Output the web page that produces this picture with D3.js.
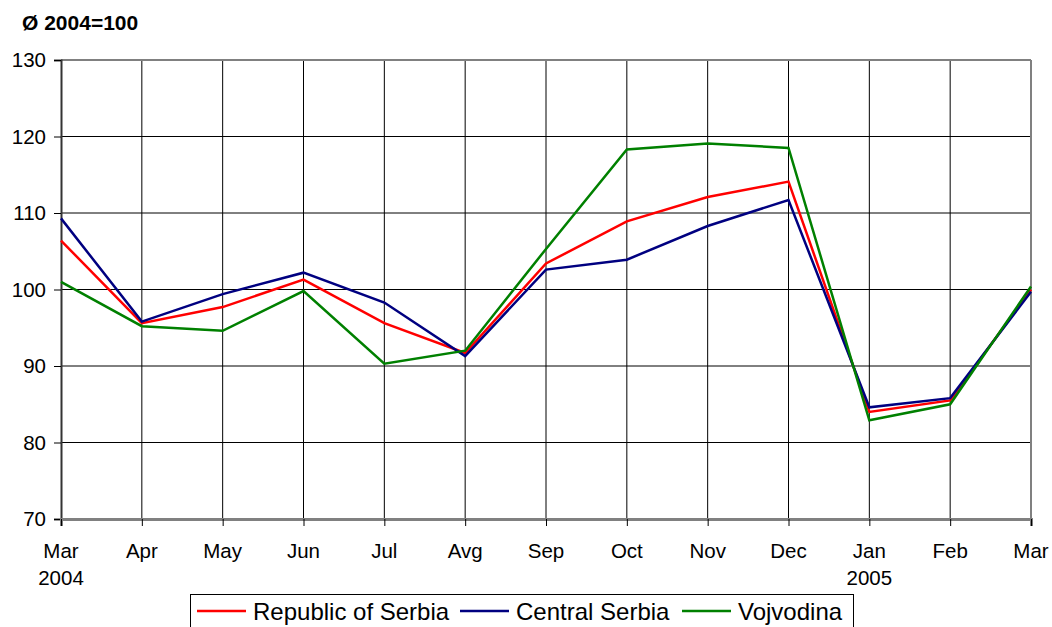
<!DOCTYPE html>
<html>
<head>
<meta charset="utf-8">
<script src="https://cdn.jsdelivr.net/npm/d3@7"></script>
<style>
  body { margin: 0; background: #fff; }
  svg { display: block; font-family: "Liberation Sans", Arial, sans-serif; }
</style>
</head>
<body>
<script>
const months = ["Mar", "Apr", "May", "Jun", "Jul", "Avg", "Sep", "Oct", "Nov", "Dec", "Jan", "Feb", "Mar"];
const years = ["2004", "", "", "", "", "", "", "", "", "", "2005", "", ""];
const yTicks = [70, 80, 90, 100, 110, 120, 130];

const serbia = [106.4, 95.6, 97.7, 101.3, 95.6, 91.7, 103.4, 108.9, 112.1, 114.1, 84.0, 85.5, 100.0];
const central = [109.3, 95.8, 99.4, 102.2, 98.3, 91.3, 102.6, 103.9, 108.3, 111.7, 84.6, 85.8, 99.7];
const vojvodina = [101.0, 95.2, 94.6, 99.8, 90.3, 92.0, 105.3, 118.3, 119.1, 118.5, 82.9, 85.0, 100.4];

const series = [
  { name: "Republic of Serbia", values: serbia, color: "#ff0000" },
  { name: "Central Serbia", values: central, color: "#000080" },
  { name: "Vojvodina", values: vojvodina, color: "#008000" }
];

const width = 1052, height = 627;
const plotLeft = 61, plotRight = 1031, plotTop = 60, plotBottom = 519;

const svg = d3.select("body").append("svg")
  .attr("width", width)
  .attr("height", height);

const x = d3.scaleLinear().domain([0, months.length - 1]).range([plotLeft, plotRight]);
const y = d3.scaleLinear().domain([70, 130]).range([plotBottom, plotTop]);

// title
svg.append("text")
  .attr("x", 22).attr("y", 30)
  .attr("font-size", 21).attr("font-weight", "bold")
  .text("Ø 2004=100");

// grid
svg.append("g").selectAll("line")
  .data(yTicks.slice(1, -1))
  .join("line")
  .attr("x1", plotLeft).attr("x2", plotRight)
  .attr("y1", d => y(d)).attr("y2", d => y(d))
  .attr("stroke", "#000").attr("stroke-width", 1);

svg.append("g").selectAll("line")
  .data(d3.range(1, months.length - 1))
  .join("line")
  .attr("x1", d => x(d)).attr("x2", d => x(d))
  .attr("y1", plotTop).attr("y2", plotBottom)
  .attr("stroke", "#000").attr("stroke-width", 1);

// frame (top, right in gray)
svg.append("line").attr("x1", plotLeft).attr("x2", plotRight).attr("y1", plotTop).attr("y2", plotTop)
  .attr("stroke", "#808080").attr("stroke-width", 2);
svg.append("line").attr("x1", plotRight).attr("x2", plotRight).attr("y1", plotTop).attr("y2", plotBottom)
  .attr("stroke", "#808080").attr("stroke-width", 2);

// y axis
const yAxis = svg.append("g")
  .attr("transform", `translate(${plotLeft},0)`)
  .call(d3.axisLeft(y).tickValues(yTicks).tickSize(7).tickPadding(8));
yAxis.select(".domain").attr("stroke", "#333").attr("stroke-width", 2);
yAxis.selectAll("text").attr("font-size", 20.5).attr("fill", "#000")
  .attr("font-family", "Liberation Sans, Arial, sans-serif");

// x axis
const xAxis = svg.append("g")
  .attr("transform", `translate(0,${plotBottom})`)
  .call(d3.axisBottom(x).tickValues(d3.range(months.length)).tickSize(7).tickFormat(() => ""));
xAxis.select(".domain").attr("stroke", "#808080").attr("stroke-width", 3);

const xl = svg.append("g").attr("font-size", 20.5).attr("text-anchor", "middle");
xl.selectAll("text.m")
  .data(months)
  .join("text")
  .attr("class", "m")
  .attr("x", (d, i) => x(i)).attr("y", 558)
  .text(d => d);
xl.selectAll("text.yr")
  .data(years)
  .join("text")
  .attr("class", "yr")
  .attr("x", (d, i) => x(i)).attr("y", 585)
  .text(d => d);

// lines
const line = d3.line().x((d, i) => x(i)).y(d => y(d));
svg.append("g").selectAll("path")
  .data(series)
  .join("path")
  .attr("d", d => line(d.values))
  .attr("fill", "none")
  .attr("stroke", d => d.color)
  .attr("stroke-width", 2.5)
  .attr("stroke-linejoin", "miter");

// legend
const lg = svg.append("g");
lg.append("rect")
  .attr("x", 190.5).attr("y", 594.5)
  .attr("width", 663).attr("height", 40)
  .attr("fill", "#fff").attr("stroke", "#000").attr("stroke-width", 1);

const legendX = [197, 460, 682];
series.forEach((s, i) => {
  lg.append("line")
    .attr("x1", legendX[i]).attr("x2", legendX[i] + 49)
    .attr("y1", 611).attr("y2", 611)
    .attr("stroke", s.color).attr("stroke-width", 2.5);
  lg.append("text")
    .attr("x", legendX[i] + 56).attr("y", 620)
    .attr("font-size", 24)
    .text(s.name);
});
</script>
</body>
</html>
